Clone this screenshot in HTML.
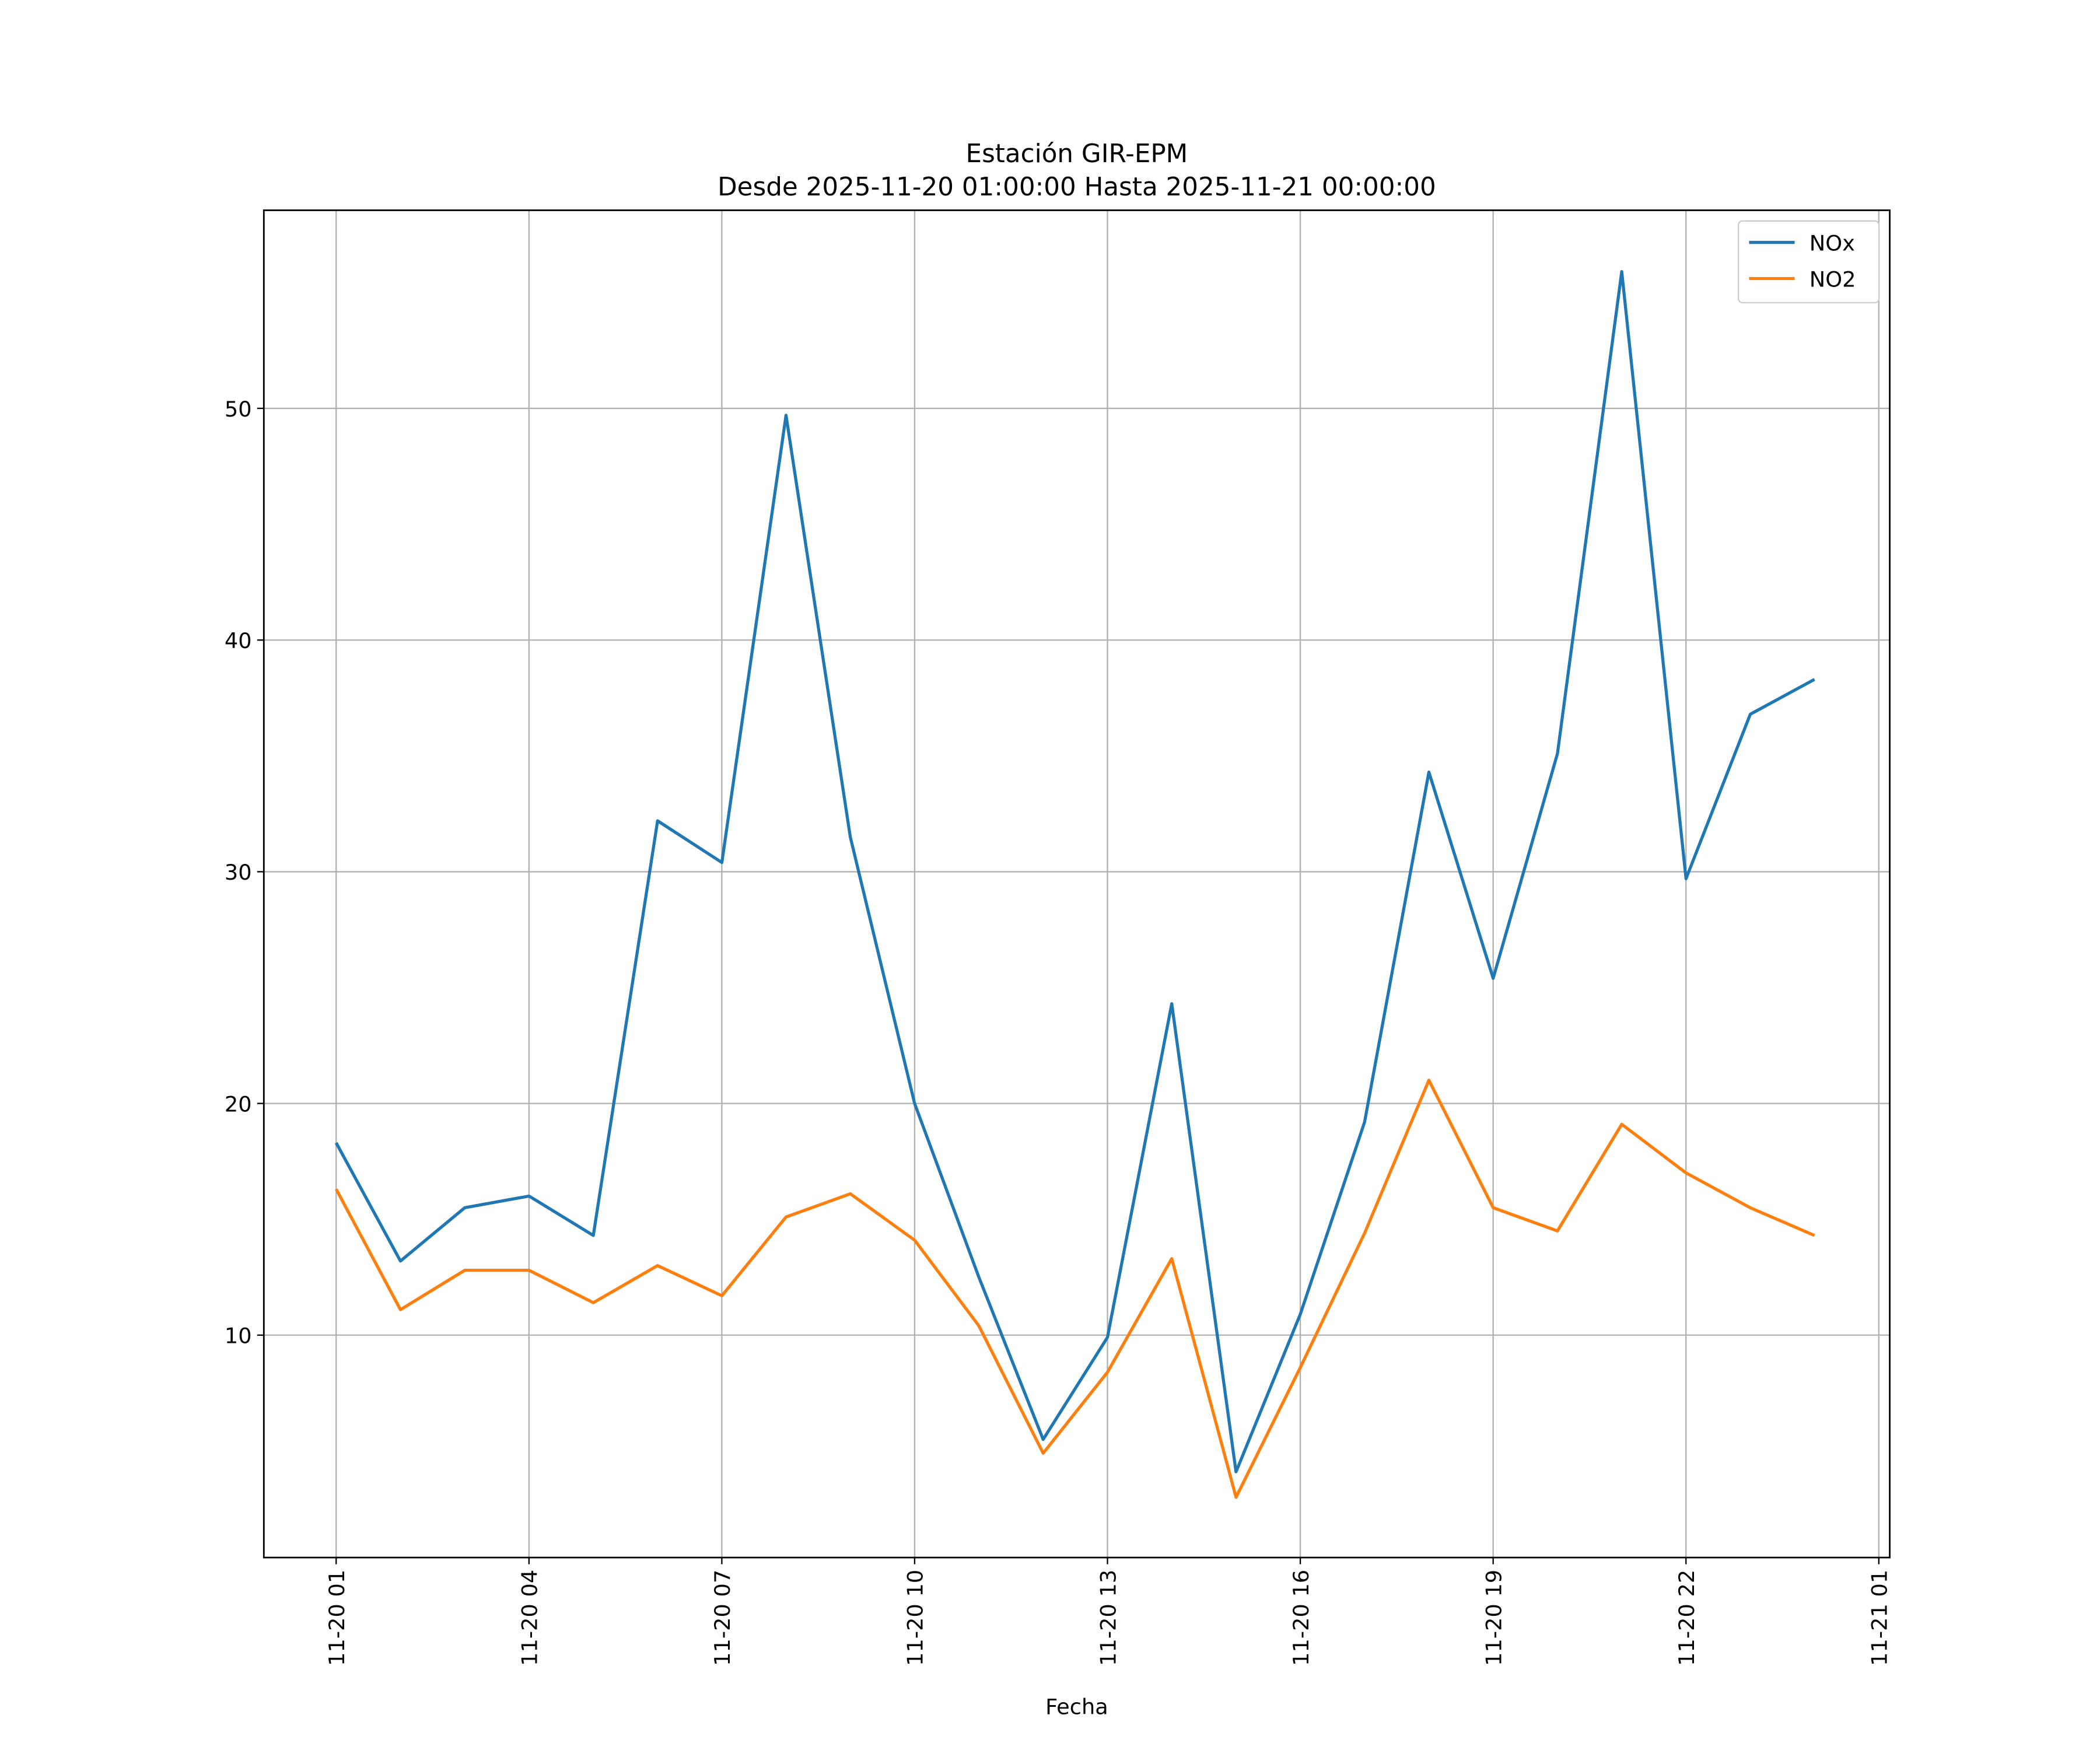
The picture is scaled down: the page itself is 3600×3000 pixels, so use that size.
<!DOCTYPE html>
<html><head><meta charset="utf-8"><style>
html,body{margin:0;padding:0;background:#fff;}
svg{display:block;font-family:"DejaVu Sans","Liberation Sans",sans-serif;}
</style></head><body>
<svg id="chart" width="3600" height="3000" viewBox="0 0 1568 1306.7" preserveAspectRatio="none" xmlns="http://www.w3.org/2000/svg">
<rect width="1568" height="1307" fill="#fff"/>
<text x="804" y="121" font-size="19" text-anchor="middle">Estación GIR-EPM</text>
<text x="804" y="146" font-size="19" text-anchor="middle">Desde 2025-11-20 01:00:00 Hasta 2025-11-21 00:00:00</text>
<g id="grid"></g>
<g id="series"></g>
<rect x="197" y="157" width="1214" height="1006" fill="none" stroke="#000" stroke-width="1.2"/>
<g id="axes"></g>
<text x="804" y="1280" font-size="16" text-anchor="middle">Fecha</text>
<g>
<rect x="1298" y="165" width="105" height="61" rx="3" fill="#fff" stroke="#ccc" stroke-width="1"/>
<line x1="1306" y1="181" x2="1340" y2="181" stroke="#1f77b4" stroke-width="2.3"/>
<text x="1351" y="187" font-size="16">NOx</text>
<line x1="1306" y1="208" x2="1340" y2="208" stroke="#ff7f0e" stroke-width="2.3"/>
<text x="1351" y="214" font-size="16">NO2</text>
</g>
</svg>
<script>
const hours = [0,1,2,3,4,5,6,7,8,9,10,11,12,13,14,15,16,17,18,19,20,21,22,23];
const noxValues = [18.3,13.2,15.5,16.0,14.3,32.2,30.4,49.7,31.5,20.0,12.5,5.5,9.9,24.3,4.1,10.9,19.2,34.3,25.4,35.1,55.9,29.7,36.8,38.3];
const no2Values = [16.3,11.1,12.8,12.8,11.4,13.0,11.7,15.1,16.1,14.1,10.4,4.9,8.4,13.3,3.0,8.6,14.4,21.0,15.5,14.5,19.1,17.0,15.5,14.3];
const yTicks = [10,20,30,40,50];
const xTickHours = [0,3,6,9,12,15,18,21,24];
const xTickLabels = ["11-20 01","11-20 04","11-20 07","11-20 10","11-20 13","11-20 16","11-20 19","11-20 22","11-21 01"];

const NS = "http://www.w3.org/2000/svg";
const X0 = 197, X1 = 1411, Y0 = 1163, Y1 = 157;
const xMin = -1.125, xMax = 24.17, yMin = 0.4, yMax = 58.55;
function xs(h){ return X0 + (h - xMin) / (xMax - xMin) * (X1 - X0); }
function ys(v){ return Y0 - (v - yMin) / (yMax - yMin) * (Y0 - Y1); }
function mk(tag, attrs, parent){ const e = document.createElementNS(NS, tag); for (const k in attrs) e.setAttribute(k, attrs[k]); parent.appendChild(e); return e; }

const grid = document.getElementById('grid');
const axes = document.getElementById('axes');
yTicks.forEach(v => {
  const y = ys(v);
  const g = mk('line', {x1:X0, x2:X1, y1:y, y2:y, stroke:'#b0b0b0', 'stroke-width':1}, grid);
  
  
  mk('line', {x1:X0-5, x2:X0, y1:y, y2:y, stroke:'#000', 'stroke-width':1}, axes);
  const t = mk('text', {x:X0-9, y:y+6, 'font-size':16, 'text-anchor':'end'}, axes);
  t.textContent = v;
  
  
});
xTickHours.forEach((h, i) => {
  const x = xs(h);
  const g = mk('line', {x1:x, x2:x, y1:Y1, y2:Y0, stroke:'#b0b0b0', 'stroke-width':1}, grid);
  
  
  mk('line', {x1:x, x2:x, y1:Y0, y2:Y0+5, stroke:'#000', 'stroke-width':1}, axes);
  const t = mk('text', {x:0, y:0, 'font-size':16, 'text-anchor':'end', transform:`translate(${x+6},${Y0+9}) rotate(-90)`}, axes);
  t.textContent = xTickLabels[i];
  
  
});
const series = document.getElementById('series');
[[noxValues,'#1f77b4','nox-line'],[no2Values,'#ff7f0e','no2-line']].forEach(([vals,col,name]) => {
  const pts = vals.map((v,i) => xs(hours[i]).toFixed(1)+','+ys(v).toFixed(1)).join(' ');
  const p = mk('polyline', {points:pts, fill:'none', stroke:col, 'stroke-width':2.3, 'stroke-linejoin':'round'}, series);
  
  
});
</script>
</body></html>
